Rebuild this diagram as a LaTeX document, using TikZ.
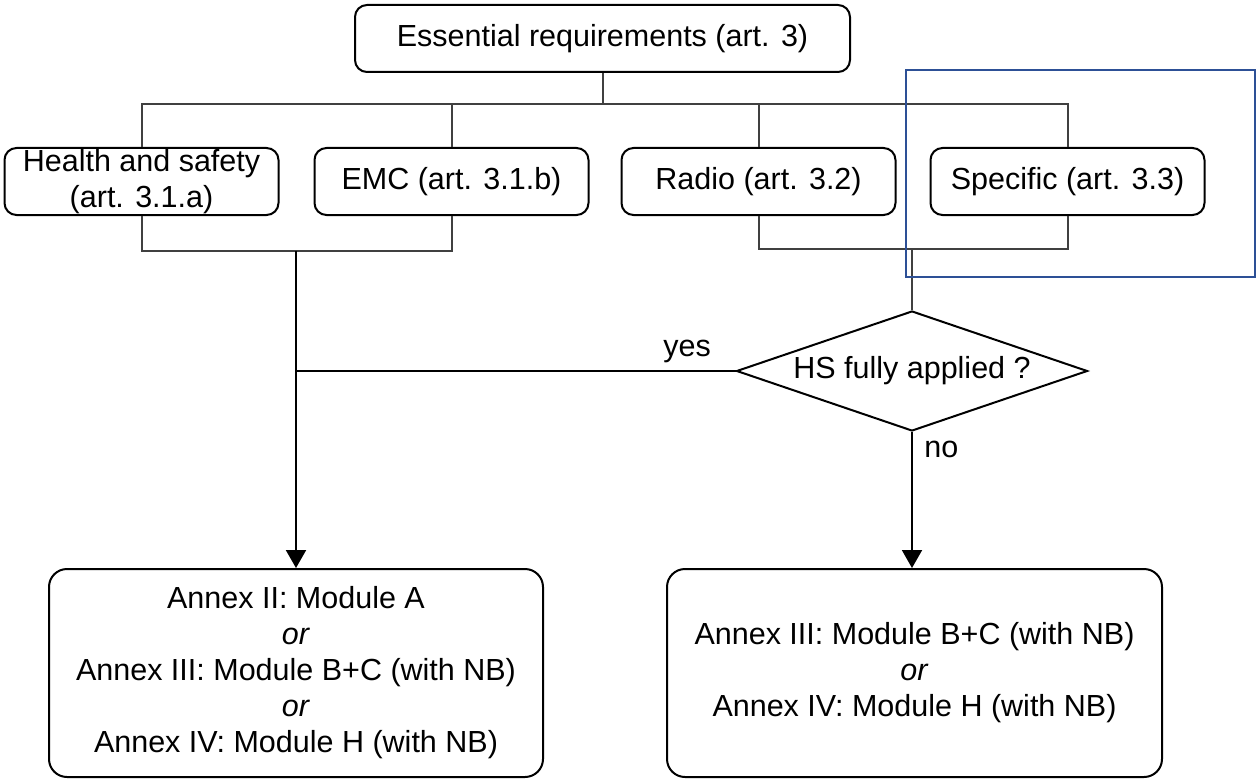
\documentclass[tikz,border=0pt]{standalone}
\usepackage{fontspec}
\setmainfont{Liberation Sans}
\usetikzlibrary{shapes,arrows.meta}

\begin{document}
\begin{tikzpicture}[x=1pt,y=1pt]
\def\D{143pt}
\colorlet{tree color}{black!75}
\definecolor{mark color}{RGB}{45,80,150}
\tikzset{
  node distance=\D,
  every node/.style={font=\fontsize{30.5pt}{36pt}\selectfont},
  box/.style={rectangle,rounded corners=12pt,draw,line width=2pt,align=center,
    minimum width=274pt,minimum height=67pt,inner sep=0pt},
  outcome/.style={box,rounded corners=18pt,minimum width=494pt,minimum height=208pt},
  decision/.style={diamond,aspect=2.9,draw,line width=2pt,inner sep=0pt,
    minimum width=351pt,minimum height=120pt},
  tree/.style={tree color,line width=2pt},
  flow/.style={-{Triangle[width=20pt,length=18pt]},line width=2pt}
}
\useasboundingbox (0,0) rectangle (1258,-781);

%INIT
\node[box,minimum width=495pt] (ESS) at (602.5,-38.5) {Essential requirements (art. 3)};

%REQUIREMENTS
\node[box] (HEALTH) [below of=ESS,xshift=-461pt] {Health and safety\\(art. 3.1.a)};
\node[box] (EMC) [below of=ESS,xshift=-151pt] {EMC (art. 3.1.b)};
\node[box] (RADIO) [below of=ESS,xshift=156pt] {Radio (art. 3.2)};
\node[box] (SPEC) [below of=ESS,xshift=465pt] {Specific (art. 3.3)};

%DECISION
\node[decision] (HS) [below of=ESS,yshift=-189.5pt,xshift=309.5pt] {HS fully applied ?};

%PROCEDURES
\node[outcome] (LEFTOUT) at (296,-673) {Annex II: Module A\\\textit{or}\\Annex III: Module B+C (with NB)\\\textit{or}\\Annex IV: Module H (with NB)};
\node[outcome,minimum width=495pt] (RIGHTOUT) at (914.5,-673) {Annex III: Module B+C (with NB)\\\textit{or}\\Annex IV: Module H (with NB)};

%PATHS
\draw[tree] (ESS.south) -- ++(0,-31) coordinate (TOP);
\draw[tree] (HEALTH.north) |- (TOP) -| (SPEC.north);
\draw[tree] (EMC.north) -- (EMC.north |- TOP);
\draw[tree] (RADIO.north) -- (RADIO.north |- TOP);
\draw[tree] (HEALTH.south) -- ++(0,-35) coordinate (J1) -| (EMC.south);
\draw[tree] (RADIO.south) -- ++(0,-33) coordinate (J2) -| (SPEC.south);
\draw[tree] (HS.north |- J2) -- (HS.north);
%%yes / no
\draw[line width=2pt] (HS.west) -- node[pos=0.11,above=4pt] {yes} (LEFTOUT.north |- HS.west);
\draw[flow] (LEFTOUT.north |- J1) -- (LEFTOUT.north);
\draw[flow] (HS.south) -- node[pos=0.13,right=8pt] {no} (HS.south |- RIGHTOUT.north);

%MARK
\draw[mark color,line width=1.8pt] (906,-70) rectangle (1255,-277);

\end{tikzpicture}
\end{document}
